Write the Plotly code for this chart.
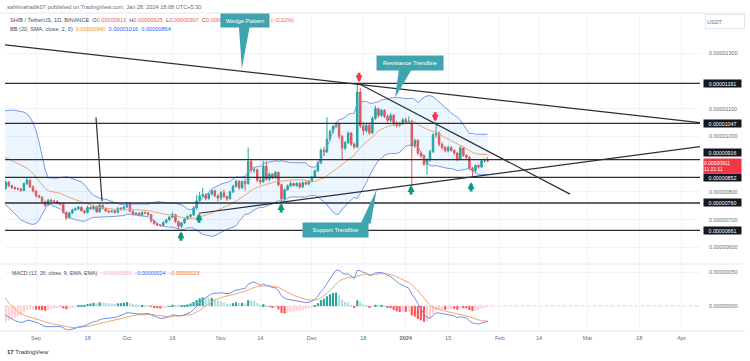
import numpy as np
import pandas as pd
import plotly.graph_objects as go

E = 1e-8  # prices below are in units of 0.00000001 USDT

# ---------------- data ----------------
# closes before the visible window (only used to warm up BB / MACD)
history_start = "2023-07-03"
history_closes = [820, 825, 830, 828, 822, 818, 815, 820, 825, 850, 860, 852, 845, 840, 835, 830, 828, 825, 822, 820,
                  815, 812, 808, 805, 808, 810, 812, 815, 818,
                  830, 880, 925, 935, 930, 925, 920, 930, 945, 990, 1020, 1040, 1060, 1050, 1010, 930, 830, 800, 805,
                  798, 805]

start = "2023-08-22"
opens = [812, 835, 822, 816, 812, 810, 805, 830, 842, 818,
         803, 786, 781, 764, 752, 770, 767, 766, 759, 755, 726, 707, 724, 735, 739, 745, 732, 726, 744, 739, 748, 728, 752, 740, 731, 728, 731, 726, 741, 739,
         746, 758, 730, 719, 723, 716, 726, 724, 718, 695, 685, 680, 679, 690, 699, 709, 718, 693, 676, 688, 702, 711, 717, 742, 768, 785, 790, 776, 792, 804, 786,
         778, 797, 783, 775, 800, 820, 838, 815, 837, 830, 910, 878, 880, 842, 836, 893, 846, 864, 851, 870, 826, 774, 808, 822, 830, 823, 831, 818, 833, 828,
         838, 853, 876, 905, 950, 945, 990, 1018, 1036, 1045, 1000, 958, 978, 1012, 972, 962, 1160, 1038, 1020, 1040, 1012, 1065, 1100, 1076, 1094, 1072, 1058, 1076, 1046, 1040, 1046,
         1060, 1052, 1055, 965, 985, 940, 930, 900, 915, 945, 1005, 1012, 972, 960, 948, 960, 950, 940, 918, 958, 932, 925, 885, 876, 895, 890, 912, 913]
highs = [840, 838, 826, 819, 815, 814, 834, 850, 845, 824,
         806, 790, 784, 768, 774, 776, 772, 770, 762, 758, 729, 728, 739, 744, 749, 747, 735, 750, 748, 753, 750, 758, 754, 743, 734, 735, 737, 745, 745, 750,
         763, 762, 733, 727, 726, 730, 729, 727, 720, 699, 689, 684, 694, 703, 713, 726, 721, 696, 692, 706, 715, 721, 748, 790, 800, 815, 796, 797, 810, 808, 791,
         803, 808, 787, 804, 826, 843, 842, 841, 848, 960, 915, 888, 884, 850, 912, 910, 870, 868, 875, 874, 830, 812, 827, 838, 834, 835, 834, 837, 840, 842,
         858, 880, 912, 958, 962, 1069, 1025, 1042, 1052, 1050, 1005, 984, 1018, 1016, 978, 1192, 1175, 1045, 1046, 1048, 1072, 1110, 1104, 1099, 1098, 1080, 1084, 1080, 1055, 1052, 1066,
         1068, 1072, 1060, 992, 990, 946, 935, 920, 952, 1012, 1050, 1018, 978, 965, 966, 966, 954, 944, 966, 962, 936, 929, 890, 899, 900, 916, 920, 925]
lows = [808, 818, 810, 806, 806, 800, 802, 824, 814, 798,
        780, 777, 760, 746, 749, 762, 760, 755, 751, 722, 698, 703, 719, 731, 734, 729, 721, 722, 735, 734, 724, 725, 736, 727, 723, 725, 722, 723, 735, 736,
        742, 727, 715, 715, 711, 712, 720, 714, 690, 681, 676, 674, 676, 687, 696, 705, 688, 664, 670, 684, 699, 707, 713, 735, 762, 779, 770, 772, 788, 781, 765,
        770, 778, 768, 772, 796, 816, 808, 811, 805, 826, 870, 868, 835, 826, 832, 840, 838, 846, 848, 820, 765, 770, 804, 818, 819, 818, 812, 815, 824, 824,
        834, 850, 872, 900, 930, 940, 985, 1010, 1030, 990, 918, 950, 972, 965, 955, 958, 1030, 1005, 1014, 1006, 1008, 1060, 1068, 1070, 1066, 1050, 1052, 1040, 1032, 1034, 1041,
        1046, 1045, 821, 958, 932, 922, 893, 862, 908, 940, 995, 965, 952, 942, 943, 944, 933, 910, 914, 926, 919, 878, 854, 870, 884, 886, 906, 907]
closes = [835, 822, 816, 812, 810, 805, 830, 842, 818, 803,
          786, 781, 764, 752, 770, 767, 766, 759, 755, 726, 707, 724, 735, 739, 745, 732, 726, 744, 739, 748, 728, 752, 740, 731, 728, 731, 726, 741, 739, 746,
          758, 730, 719, 723, 716, 726, 724, 718, 695, 685, 680, 679, 690, 699, 709, 718, 693, 676, 688, 702, 711, 717, 742, 768, 785, 790, 776, 792, 804, 786, 778,
          797, 783, 775, 800, 820, 838, 815, 837, 830, 910, 878, 880, 842, 836, 893, 846, 864, 851, 870, 826, 774, 808, 822, 830, 823, 831, 818, 833, 828, 838,
          853, 876, 905, 950, 945, 990, 1018, 1036, 1045, 1000, 958, 978, 1012, 972, 962, 1160, 1038, 1020, 1040, 1012, 1065, 1100, 1076, 1094, 1072, 1058, 1076, 1046, 1040, 1046, 1060,
          1052, 1055, 965, 985, 940, 930, 900, 915, 945, 1005, 1012, 972, 960, 948, 960, 950, 940, 918, 958, 932, 925, 885, 876, 895, 890, 912, 913, 911]

levels = [1191, 1047, 916, 852, 760, 661]
level_texts = ["0.00001191", "0.00001047", "0.00000916", "0.00000852", "0.00000760", "0.00000661"]
level_label_shift = [0, 0, 7, 0, 0, 0]
current_price = 911
current_text = "0.00000911<br>11:21:11"

price_ticks = [600, 700, 800, 1000, 1100, 1300]
macd_ticks = [0, 50]
x_tickvals = ["2023-09-01", "2023-09-18", "2023-10-01", "2023-10-16", "2023-11-01", "2023-11-14", "2023-12-01",
              "2023-12-18", "2024-01-01", "2024-01-15", "2024-02-01", "2024-02-14", "2024-03-01", "2024-03-18",
              "2024-04-01"]
x_ticktext = ["Sep", "18", "Oct", "16", "Nov", "14", "Dec", "18", "<b>2024</b>", "15", "Feb", "14", "Mar", "18", "Apr"]

# drawings (date, price)
trendlines = [
    (("2023-08-21 18:00", 1330), ("2024-04-07 02:00", 1050)),   # upper wedge line
    (("2023-12-16 22:00", 1188), ("2024-02-24 05:00", 792)),    # resistance trendline
    (("2023-10-24 19:00", 723), ("2024-04-07 02:00", 963)),     # support trendline
    (("2023-09-20 19:00", 1068), ("2023-09-22 19:00", 767)),    # wedge stub
]
up_arrows = [("2023-10-18 20:00", 658), ("2023-10-24 19:00", 723), ("2023-11-20 21:00", 760),
             ("2024-01-02 18:00", 825), ("2024-01-22 13:00", 836)]
down_arrows = [("2023-12-16 14:00", 1195), ("2024-01-10 17:00", 1053)]
callouts = [  # text, tip date, tip price
    ("Wedge Pattern", "2023-11-07 22:00", 1244),
    ("Resistance Trendline", "2023-12-28 11:00", 1139),
    ("Support Trendline", "2023-12-22 10:00", 809),
]

assert len(opens) == len(highs) == len(lows) == len(closes) == 160

# ---------------- indicators ----------------
dates = pd.date_range(start, periods=len(closes), freq="D")
hdates = pd.date_range(history_start, periods=len(history_closes), freq="D")
all_dates = hdates.append(dates)
cs = pd.Series(history_closes + closes, index=all_dates, dtype=float)
basis = cs.rolling(20).mean()
dev = cs.rolling(20).std(ddof=0)
upper = basis + 2 * dev
lower = basis - 2 * dev
ema12 = cs.ewm(span=12, adjust=False).mean()
ema26 = cs.ewm(span=26, adjust=False).mean()
macd = ema12 - ema26
signal = macd.ewm(span=9, adjust=False).mean()
hist = macd - signal

sel = all_dates >= pd.Timestamp("2023-08-18")
idates = all_dates[sel]
hcol = []
hv = hist.values
for i in np.where(sel)[0]:
    h, p = hv[i], hv[i - 1]
    if h >= 0:
        hcol.append("#26a69a" if h > p else "#b2dfdb")
    else:
        hcol.append("#ffcdd2" if h > p else "#ff5252")

GREEN = "#26a69a"
RED = "#ef5350"
TEAL = "#3ea5ae"
GRID = "#f1f3f7"
FONT = "Liberation Sans, Arial, sans-serif"

fig = go.Figure()
fig.add_trace(go.Scatter(x=idates, y=upper[sel] * E, mode="lines", line=dict(color="#7b98e6", width=1),
                         hoverinfo="skip", showlegend=False))
fig.add_trace(go.Scatter(x=idates, y=lower[sel] * E, mode="lines", line=dict(color="#7b98e6", width=1),
                         fill="tonexty", fillcolor="rgba(33,150,243,0.09)", hoverinfo="skip", showlegend=False))
fig.add_trace(go.Scatter(x=idates, y=basis[sel] * E, mode="lines", line=dict(color="#f4a46e", width=1),
                         hoverinfo="skip", showlegend=False))
fig.add_trace(go.Candlestick(x=dates, open=np.array(opens) * E, high=np.array(highs) * E,
                             low=np.array(lows) * E, close=np.array(closes) * E,
                             increasing=dict(line=dict(color=GREEN, width=1), fillcolor=GREEN),
                             decreasing=dict(line=dict(color=RED, width=1), fillcolor=RED),
                             whiskerwidth=0, hoverinfo="skip", showlegend=False))
# MACD pane
fig.add_trace(go.Bar(x=idates, y=hist[sel] * E, marker=dict(color=hcol, line=dict(width=0)),
                     width=0.7 * 86400000, yaxis="y2", hoverinfo="skip", showlegend=False))
fig.add_trace(go.Scatter(x=idates, y=signal[sel] * E, mode="lines", line=dict(color="#f5a470", width=1),
                         yaxis="y2", hoverinfo="skip", showlegend=False))
fig.add_trace(go.Scatter(x=idates, y=macd[sel] * E, mode="lines", line=dict(color="#6f8fe8", width=1),
                         yaxis="y2", hoverinfo="skip", showlegend=False))

shapes = []
for lv in levels:
    shapes.append(dict(type="line", xref="x domain", yref="y", x0=0, x1=1, y0=lv * E, y1=lv * E,
                       line=dict(color="#2a2e39", width=1.3), layer="above"))
for (a, b) in trendlines:
    shapes.append(dict(type="line", xref="x", yref="y", x0=a[0], y0=a[1] * E, x1=b[0], y1=b[1] * E,
                       line=dict(color="#2a2e39", width=1.2), layer="above"))
shapes.append(dict(type="line", xref="x domain", yref="y2", x0=0, x1=1, y0=0, y1=0,
                   line=dict(color="#b8bbc4", width=1, dash="dot"), layer="below"))
# frame lines
for yy in (13, 264, 331):
    shapes.append(dict(type="line", xref="paper", yref="paper", x0=0, x1=745 / 750, y0=1 - yy / 361,
                       y1=1 - yy / 361, line=dict(color="#e6e8ee", width=1)))

# callout pointers (pixel offsets from tip)
pointer_geo = [(-3, 8, 43), (4, 17, 29), (-16, -6, -34)]
box_geo = [(2.8, 48.6, 48, 13), (15.3, 35.2, 66, 14), (-41.2, -40.7, 65, 14)]
for (txt, d, p), (bl, br, by) in zip(callouts, pointer_geo):
    shapes.append(dict(type="path", xref="x", yref="y", xsizemode="pixel", ysizemode="pixel",
                       xanchor=d, yanchor=p * E, path=f"M0,0 L{bl},{by} L{br},{by} Z",
                       fillcolor=TEAL, line=dict(width=0), layer="above"))

ann = []
gray = "#6a6d78"
R = '<span style="color:#f05a63">'
ann.append(dict(xref="paper", yref="paper", x=5 / 750, y=1 - 7 / 361, xanchor="left", yanchor="middle",
                text="sahilmahadik07 published on TradingView.com, Jan 28, 2024 18:08 UTC+5:30",
                font=dict(size=5.6, color=gray, family=FONT), showarrow=False))
ann.append(dict(xref="paper", yref="paper", x=8 / 750, y=1 - 20 / 361, xanchor="left", yanchor="middle",
                text=("SHIB / TetherUS, 1D, BINANCE\u00a0\u00a0O" + R + "0.00000913</span>\u00a0\u00a0H" + R +
                      "0.00000925</span>\u00a0\u00a0L" + R + "0.00000907</span>\u00a0\u00a0C" + R +
                      "0.00000</span>"),
                font=dict(size=5.6, color="#4a4d57", family=FONT), showarrow=False))
ann.append(dict(xref="paper", yref="paper", x=269 / 750, y=1 - 20 / 361, xanchor="left", yanchor="middle",
                text=R + "(−0.22%)</span>", font=dict(size=5.6, color="#4a4d57", family=FONT), showarrow=False))
ann.append(dict(xref="paper", yref="paper", x=8 / 750, y=1 - 29 / 361, xanchor="left", yanchor="middle",
                text=('BB (20, SMA, close, 2, 0)\u00a0\u00a0<span style="color:#f7931e">0.00000940</span>\u00a0\u00a0'
                      '<span style="color:#2962ff">0.00001016</span>\u00a0\u00a0<span style="color:#2962ff">0.00000864</span>'),
                font=dict(size=5.6, color="#4a4d57", family=FONT), showarrow=False))
ann.append(dict(xref="paper", yref="paper", x=10 / 750, y=1 - 273 / 361, xanchor="left", yanchor="middle",
                text=('MACD (12, 26, close, 9, EMA, EMA)\u00a0\u00a0<span style="color:#f7a9b8">−0.00000001</span>\u00a0\u00a0'
                      '<span style="color:#2962ff">−0.00000024</span>\u00a0\u00a0<span style="color:#ff6d00">−0.00000023</span>'),
                font=dict(size=5.3, color="#4a4d57", family=FONT), showarrow=False))
# USDT box
ann.append(dict(xref="paper", yref="paper", x=705 / 750, y=1 - 21 / 361, xanchor="left", yanchor="middle",
                text="USDT", width=36, height=11, align="left", bordercolor="#e0e3eb", borderwidth=1,
                font=dict(size=5.5, color=gray, family=FONT), showarrow=False))
# callout boxes
for (txt, d, p), (xs, ys, w, h) in zip(callouts, box_geo):
    ann.append(dict(xref="x", yref="y", x=d, y=p * E, xshift=xs, yshift=ys, width=w, height=h,
                    bgcolor=TEAL, borderpad=0, text=txt, showarrow=False,
                    font=dict(size=5.8, color="white", family=FONT)))
# arrows
for d, p in up_arrows:
    ann.append(dict(xref="x", yref="y", x=d, y=p * E, text="", showarrow=True, arrowhead=2, arrowsize=0.47,
                    arrowwidth=3, arrowcolor="#089981", ax=0, ay=11, standoff=0))
for d, p in down_arrows:
    ann.append(dict(xref="x", yref="y", x=d, y=p * E, text="", showarrow=True, arrowhead=2, arrowsize=0.47,
                    arrowwidth=3, arrowcolor="#f23645", ax=0, ay=-11, standoff=0))
# level labels
for lv, t, s in zip(levels, level_texts, level_label_shift):
    ann.append(dict(xref="paper", yref="y", x=703 / 750, y=lv * E, yshift=s, xanchor="left", yanchor="middle",
                    text=t, width=37, height=7, bgcolor="#131722", borderpad=0, showarrow=False,
                    font=dict(size=5.3, color="white", family=FONT)))
ann.append(dict(xref="paper", yref="y", x=703 / 750, y=current_price * E, yshift=-4.5, xanchor="left",
                yanchor="middle", text=current_text, width=37, height=14, bgcolor="#f23645", borderpad=0,
                align="left", showarrow=False, font=dict(size=5.0, color="white", family=FONT)))
# logo
ann.append(dict(xref="paper", yref="paper", x=5 / 750, y=1 - 352 / 361, xanchor="left", yanchor="middle",
                text="<b>17</b> TradingView", font=dict(size=6, color="#2a2e39", family=FONT), showarrow=False))

fig.update_layout(
    width=750, height=361, margin=dict(l=0, r=0, t=0, b=0),
    paper_bgcolor="white", plot_bgcolor="white", showlegend=False,
    font=dict(family=FONT),
    xaxis=dict(domain=[5 / 750, 700 / 750], range=["2023-08-21 18:30", "2024-04-07 02:00"], anchor="y2",
               type="date", rangeslider=dict(visible=False), tickvals=x_tickvals, ticktext=x_ticktext,
               tickfont=dict(size=5.6, color=gray), showgrid=True, gridcolor=GRID, gridwidth=1,
               zeroline=False, showline=False, ticks="", ticklabelstandoff=2),
    yaxis=dict(domain=[1 - 264 / 361, 1 - 13 / 361], range=[540 * E, 1445 * E], side="right", anchor="x",
               tickvals=[v * E for v in price_ticks], tickformat=".8f", tickfont=dict(size=5.4, color=gray),
               showgrid=True, gridcolor=GRID, zeroline=False, showline=False, ticks="", ticklabelstandoff=8),
    yaxis2=dict(domain=[1 - 331 / 361, 1 - 265 / 361], range=[-36.6 * E, 60.4 * E], side="right", anchor="x",
                tickvals=[v * E for v in macd_ticks], tickformat=".8f", tickfont=dict(size=5.4, color=gray),
                showgrid=True, gridcolor=GRID, zeroline=False, showline=False, ticks="", ticklabelstandoff=8),
    shapes=shapes, annotations=ann,
)

fig.write_html("out.html", config={"displayModeBar": False},
               post_script="document.body.style.margin='0px';document.body.style.overflow='hidden';")
